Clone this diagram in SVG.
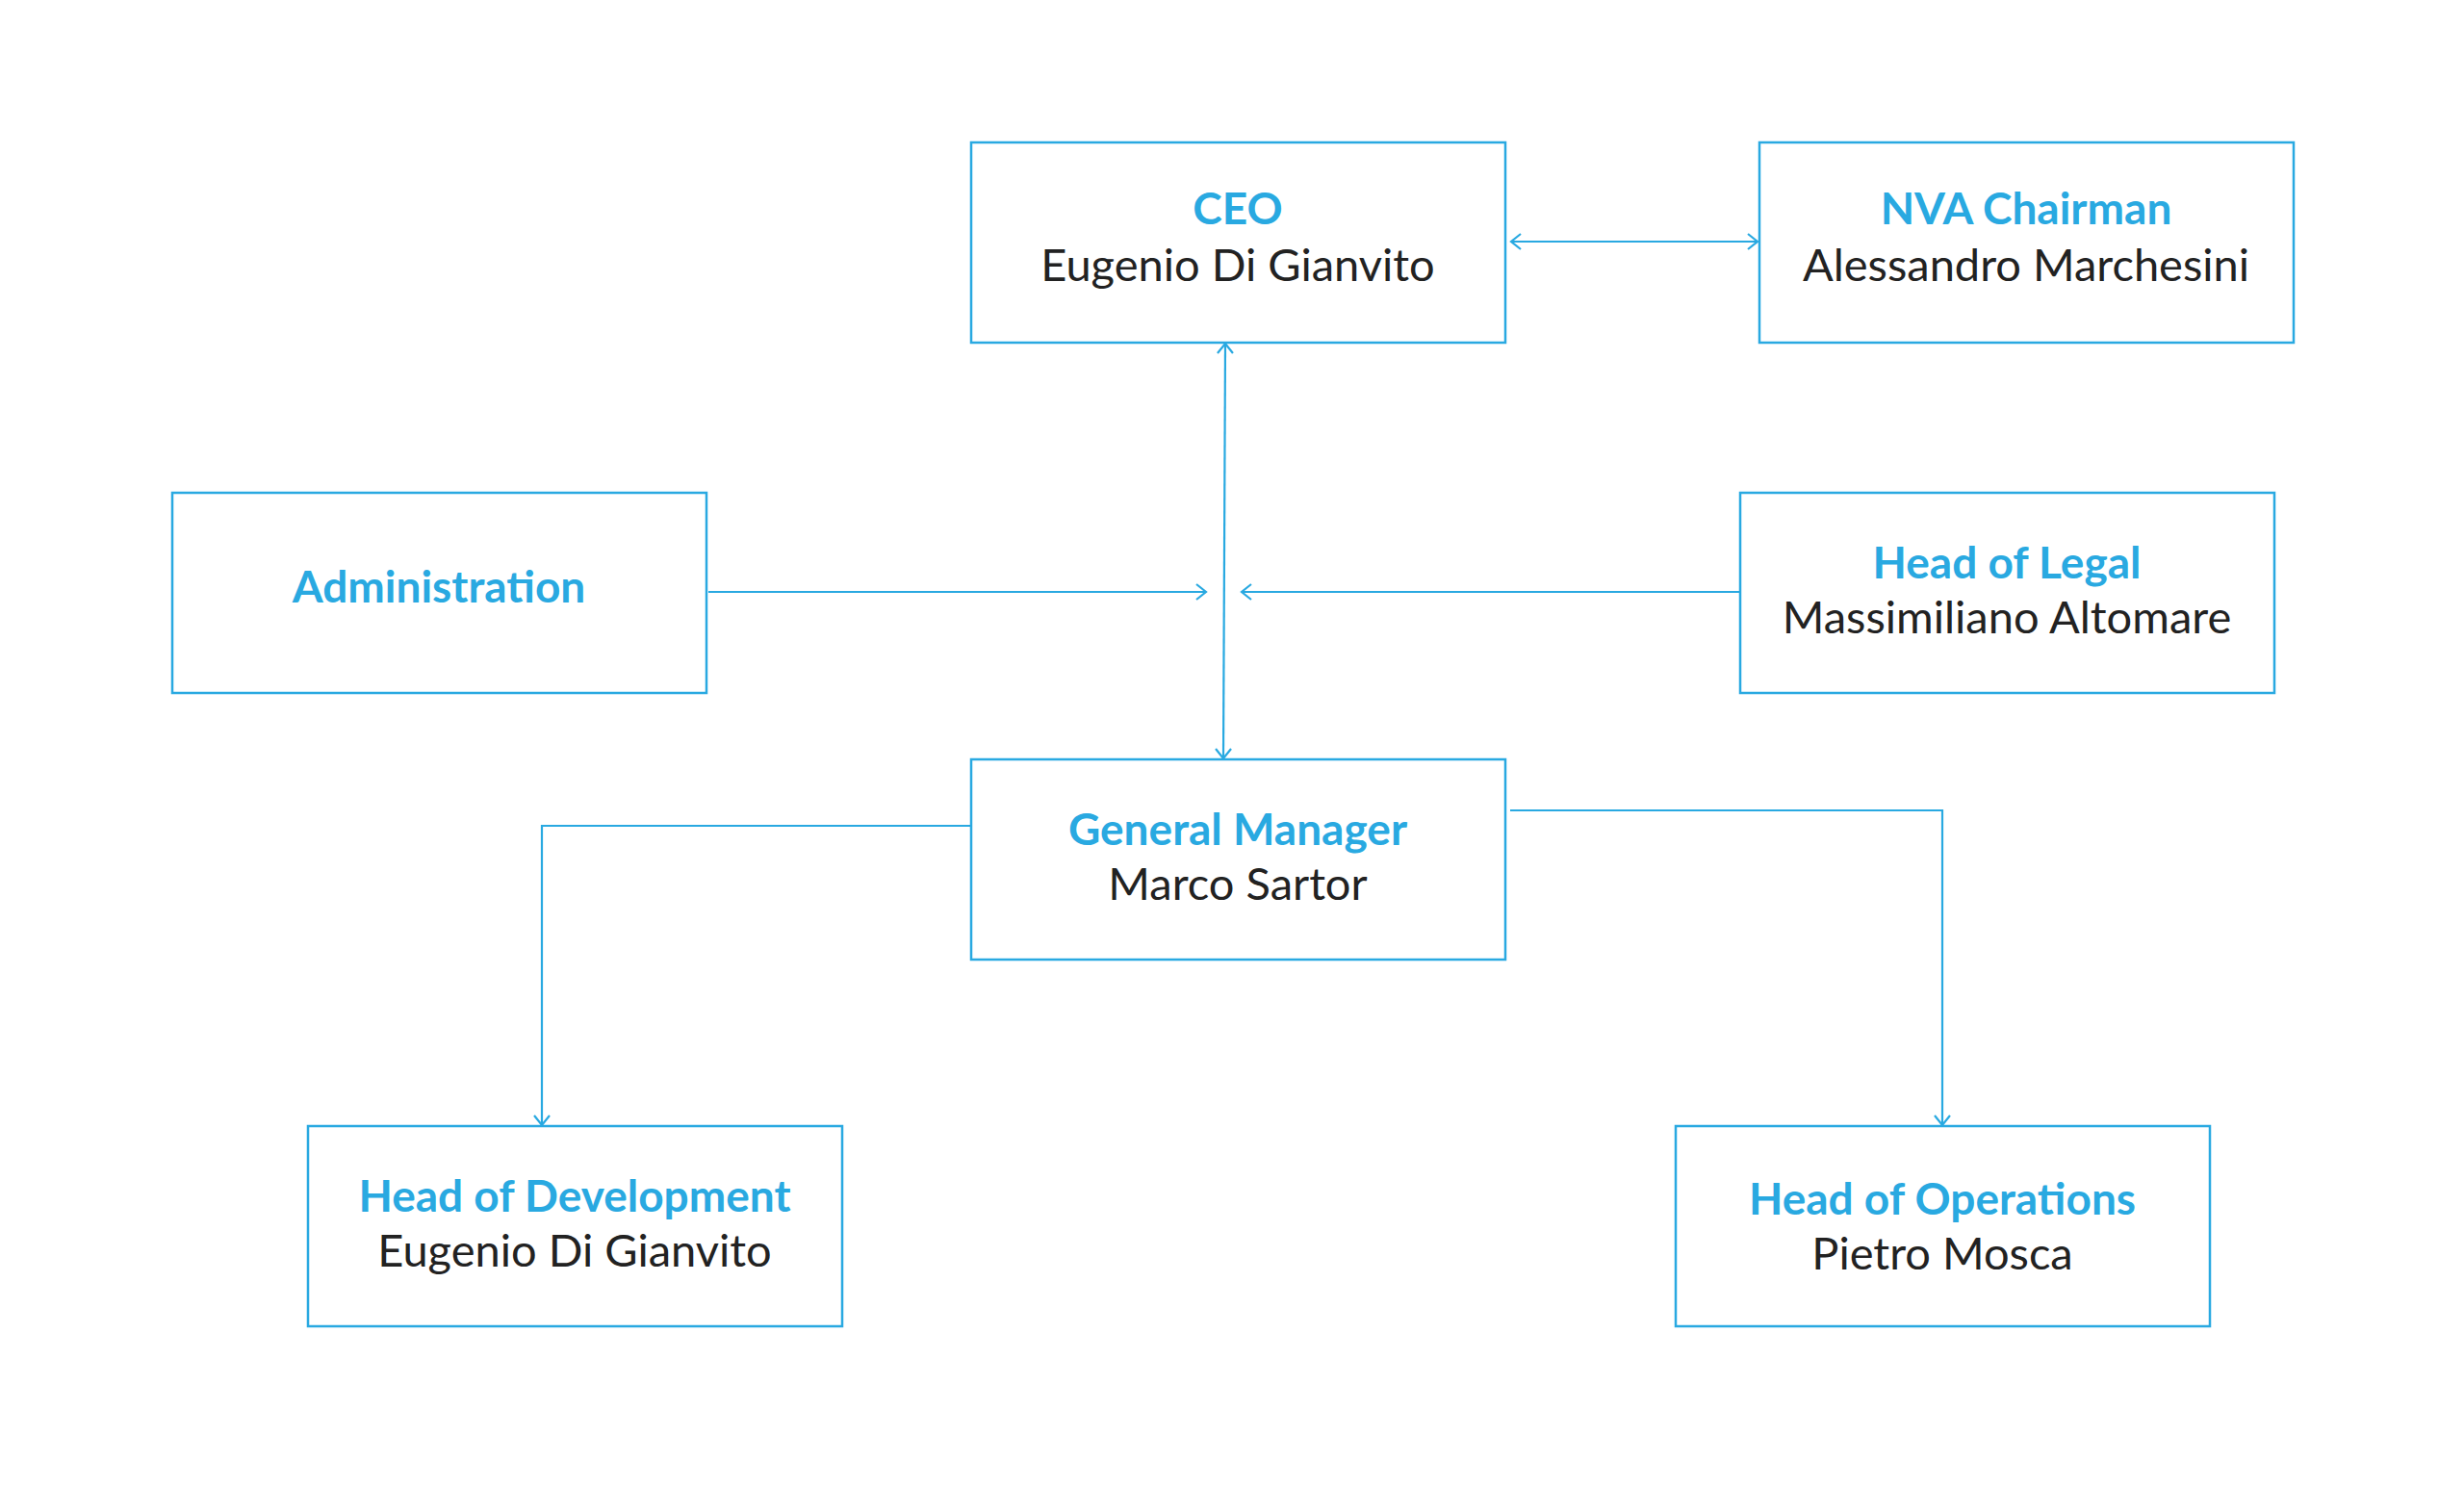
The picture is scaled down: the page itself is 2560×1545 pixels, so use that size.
<svg xmlns="http://www.w3.org/2000/svg" width="2560" height="1545" viewBox="0 0 2560 1545">
<style>
.box{fill:#fff;stroke:#29a9e1;stroke-width:2.5}
.t{font-family:Lato,"Open Sans",sans-serif;font-weight:700;font-size:46px;fill:#29a9e1;text-anchor:middle}
.n{font-family:Lato,"Open Sans",sans-serif;font-weight:400;font-size:47px;fill:#222;text-anchor:middle}
.c{fill:none;stroke:#29a9e1;stroke-width:2.2}
</style>
<defs>
<marker id="a" viewBox="0 0 20 20" refX="18" refY="10" markerWidth="20" markerHeight="20" markerUnits="userSpaceOnUse" orient="auto-start-reverse">
<path d="M8,2 L18,10 L8,18" fill="none" stroke="#29a9e1" stroke-width="2.2"/>
</marker>
</defs>
<rect width="2560" height="1545" fill="#fff"/>
<g id="connectors">
<path class="c" d="M1570,251 H1826" marker-start="url(#a)" marker-end="url(#a)"/>
<path class="c" d="M1273,357 L1271,788" marker-start="url(#a)" marker-end="url(#a)"/>
<path class="c" d="M736,615 H1253" marker-end="url(#a)"/>
<path class="c" d="M1808,615 H1290" marker-end="url(#a)"/>
<path class="c" d="M1012,858 H563 V1169" marker-end="url(#a)"/>
<path class="c" d="M1569,842 H2018 V1169" marker-end="url(#a)"/>
</g>
<g id="ceo"><rect class="box" x="1009" y="148" width="555" height="208"/><text class="t" x="1286" y="233">CEO</text><text class="n" x="1286" y="292">Eugenio Di Gianvito</text></g>
<g id="nva"><rect class="box" x="1828" y="148" width="555" height="208"/><text class="t" x="2105" y="233">NVA Chairman</text><text class="n" x="2105" y="292">Alessandro Marchesini</text></g>
<g id="admin"><rect class="box" x="179" y="512" width="555" height="208"/><text class="t" x="456" y="626">Administration</text></g>
<g id="legal"><rect class="box" x="1808" y="512" width="555" height="208"/><text class="t" x="2085" y="601">Head of Legal</text><text class="n" x="2085" y="658">Massimiliano Altomare</text></g>
<g id="gm"><rect class="box" x="1009" y="789" width="555" height="208"/><text class="t" x="1286" y="878">General Manager</text><text class="n" x="1286" y="935">Marco Sartor</text></g>
<g id="dev"><rect class="box" x="320" y="1170" width="555" height="208"/><text class="t" x="597" y="1259">Head of Development</text><text class="n" x="597" y="1316">Eugenio Di Gianvito</text></g>
<g id="ops"><rect class="box" x="1741" y="1170" width="555" height="208"/><text class="t" x="2018" y="1262">Head of Operations</text><text class="n" x="2018" y="1319">Pietro Mosca</text></g>
</svg>
